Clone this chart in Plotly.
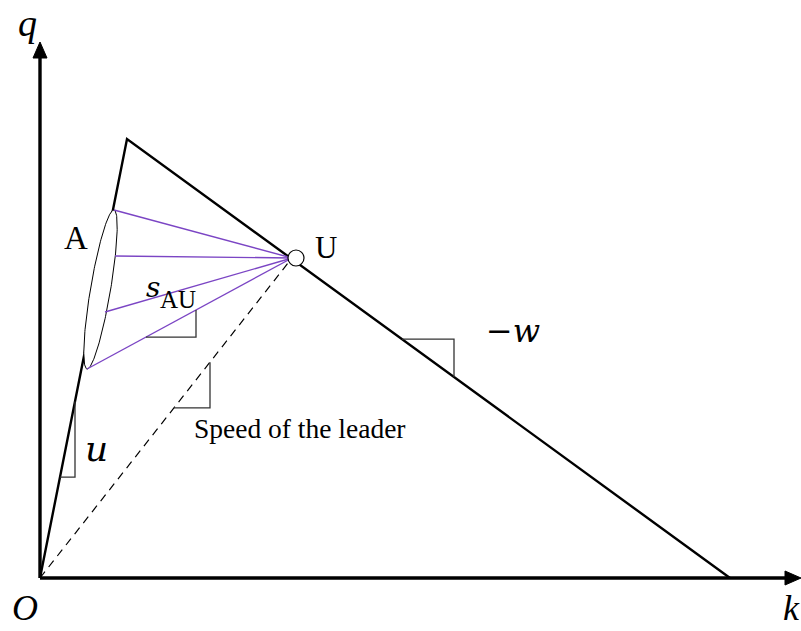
import numpy as np
import plotly.graph_objects as go

# Triangular fundamental diagram (k: density, q: flow)
k_axis_end = 761
q_axis_end = 536
k_critical, q_capacity = 87, 439
k_jam = 690
state_U = (252, 320)

# Car-following states A on the free-flow branch (fan of wave speeds s_AU)
fan_k = [74, 75, 65, 47]
fan_q = [368, 322, 266, 209]
ellipse_minor = 10

# Slope markers: (line start, line end, k_from, k_to)
slope_marks = {
    "u": ((0, 0), (k_critical, q_capacity), 20, 35),
    "sAU": ((fan_k[3], fan_q[3]), state_U, 106, 156),
    "leader": ((0, 0), state_U, 134, 170),
    "w": ((k_critical, q_capacity), (k_jam, 0), 362, 414),
}

SERIF = "Liberation Serif"
MATH = "DejaVu Serif"

fig = go.Figure()

# leader speed (dashed)
fig.add_trace(go.Scatter(x=[0, state_U[0]], y=[0, state_U[1]], mode="lines",
                         line=dict(color="black", width=1.2, dash="8px,6px"), hoverinfo="skip"))

# triangular fundamental diagram
fig.add_trace(go.Scatter(x=[0, k_critical, k_jam], y=[0, q_capacity, 0], mode="lines",
                         line=dict(color="black", width=2.4), hoverinfo="skip"))

# ellipse enclosing A states (white-filled, on top of the free-flow branch)
p1 = np.array([fan_k[0], fan_q[0]], float)
p2 = np.array([fan_k[3], fan_q[3]], float)
c = (p1 + p2) / 2
a = np.linalg.norm(p1 - p2) / 2
ang = np.arctan2(*(p1 - p2)[::-1])
t = np.linspace(0, 2 * np.pi, 200)
ex = c[0] + a * np.cos(t) * np.cos(ang) - ellipse_minor * np.sin(t) * np.sin(ang)
ey = c[1] + a * np.cos(t) * np.sin(ang) + ellipse_minor * np.sin(t) * np.cos(ang)
fig.add_trace(go.Scatter(x=ex, y=ey, mode="lines", fill="toself", fillcolor="white",
                         line=dict(color="black", width=1), hoverinfo="skip"))

# fan lines from A states to U
for kk, qq in zip(fan_k, fan_q):
    fig.add_trace(go.Scatter(x=[kk, state_U[0]], y=[qq, state_U[1]], mode="lines",
                             line=dict(color="#7b45c4", width=1.4), hoverinfo="skip"))

# slope markers
for (a0, a1, kf, kt) in slope_marks.values():
    def qline(kv):
        return a0[1] + (kv - a0[0]) * (a1[1] - a0[1]) / (a1[0] - a0[0])
    fig.add_trace(go.Scatter(x=[kf, kt, kt], y=[qline(kf), qline(kf), qline(kt)], mode="lines",
                             line=dict(color="#333333", width=1.3), hoverinfo="skip"))

# state U
fig.add_trace(go.Scatter(x=[state_U[0] + 4], y=[state_U[1]], mode="markers",
                         marker=dict(size=16, color="white", line=dict(color="black", width=1.2)),
                         hoverinfo="skip"))

# axes with arrowheads
shapes = [
    dict(type="line", x0=0, y0=0, x1=0, y1=q_axis_end - 12, line=dict(color="black", width=3.4)),
    dict(type="line", x0=0, y0=0, x1=k_axis_end - 12, y1=0, line=dict(color="black", width=3.4)),
    dict(type="path", path=f"M -7,{q_axis_end-16} L 0,{q_axis_end} L 7,{q_axis_end-16} Z",
         fillcolor="black", line=dict(color="black", width=1)),
    dict(type="path", path=f"M {k_axis_end-16},-7 L {k_axis_end},0 L {k_axis_end-16},7 Z",
         fillcolor="black", line=dict(color="black", width=1)),
]

def label(x, y, text, family, size, italic=False):
    return dict(x=x, y=y, text=f"<i>{text}</i>" if italic else text, showarrow=False,
                font=dict(family=family, size=size, color="black"), xanchor="center", yanchor="middle")

annotations = [
    label(-13, 555, "q", SERIF, 38, True),
    label(-15, -30, "O", SERIF, 36, True),
    label(751, -30, "k", SERIF, 36, True),
    label(36, 340, "A", SERIF, 33),
    label(286, 331, "U", SERIF, 31),
    label(113, 291, "s", MATH, 28, True),
    label(138, 279, "AU", SERIF, 25),
    label(473, 247, "−<i>w</i>", MATH, 32),
    label(56, 130, "u", MATH, 36, True),
    label(260, 150, "Speed of the leader", SERIF, 27.5),
]

fig.update_layout(
    width=801, height=631, margin=dict(l=0, r=0, t=0, b=0),
    paper_bgcolor="white", plot_bgcolor="white", showlegend=False,
    xaxis=dict(range=[-40, 761], visible=False, fixedrange=True),
    yaxis=dict(range=[-53, 578], visible=False, fixedrange=True),
    shapes=shapes, annotations=annotations,
)

fig.write_html("out.html")
